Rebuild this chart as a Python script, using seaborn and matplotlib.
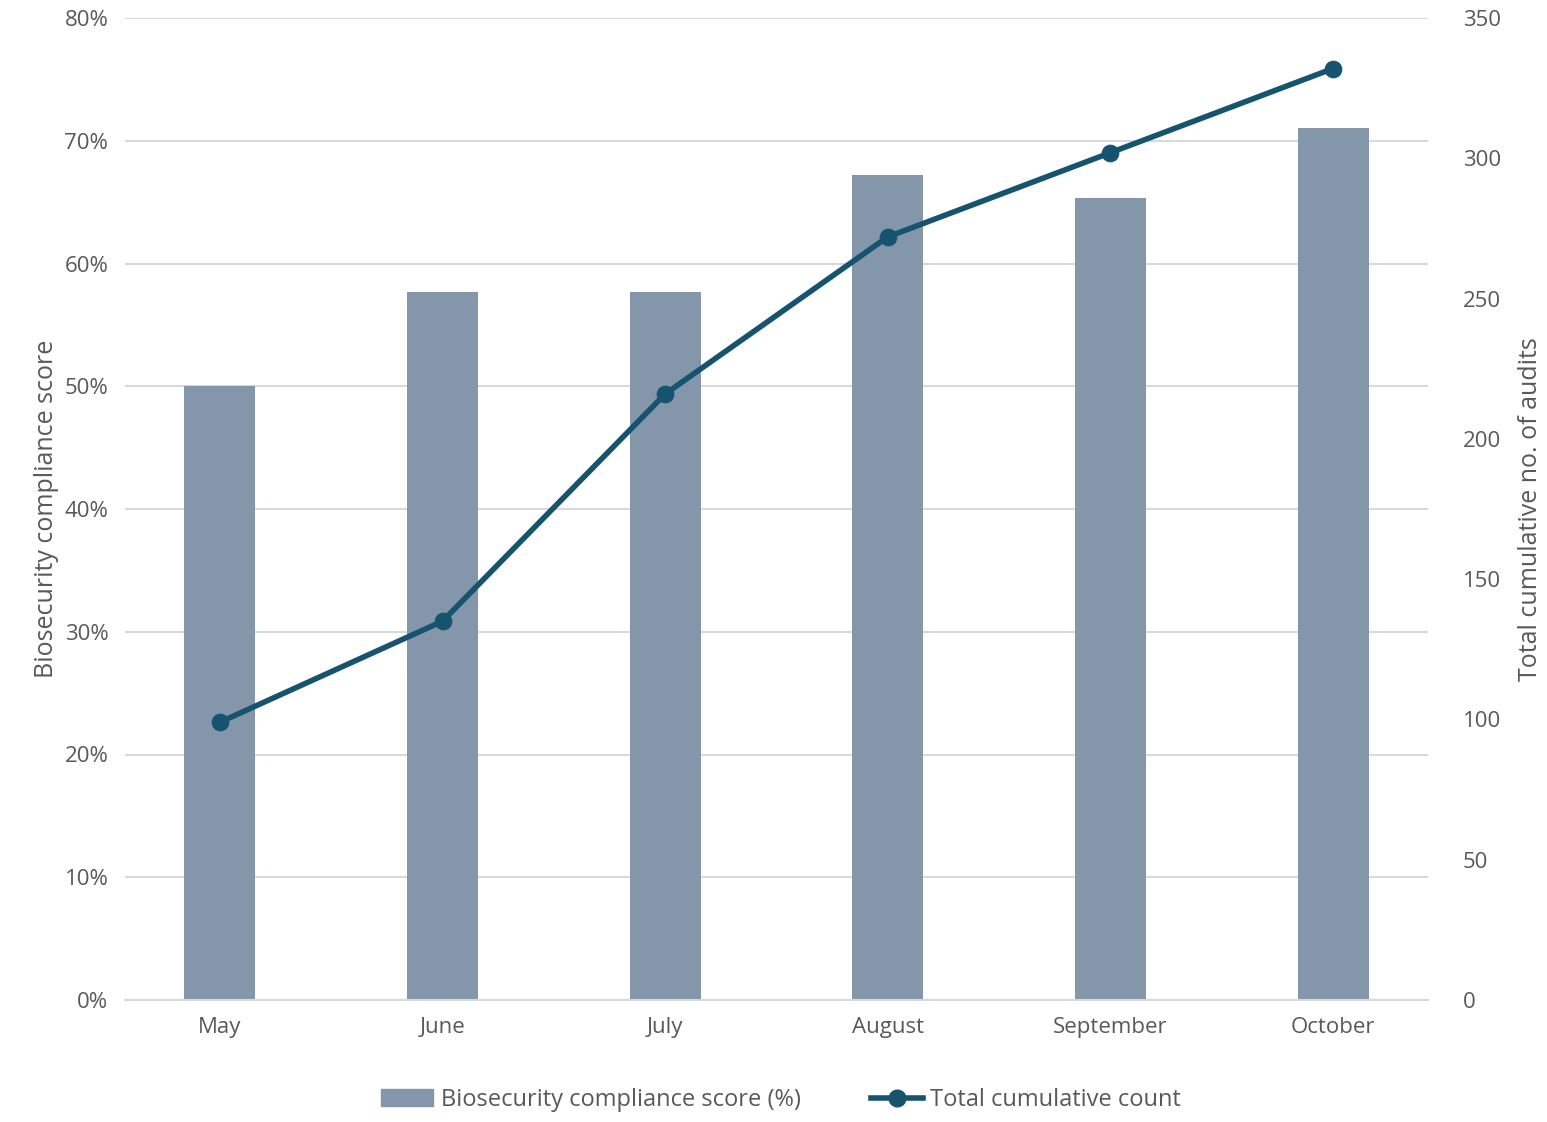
import matplotlib
matplotlib.use("Agg")
import matplotlib.pyplot as plt
import seaborn as sns
import pandas as pd
from matplotlib.ticker import PercentFormatter
from matplotlib.lines import Line2D
from matplotlib.patches import Patch

months = ["May", "June", "July", "August", "September", "October"]
compliance = [50.0, 57.7, 57.7, 67.2, 65.3, 71.0]
cumulative = [99, 135, 216, 272, 302, 332]

df = pd.DataFrame({"month": months, "score": compliance, "count": cumulative})

plt.rcParams["font.family"] = "Open Sans"
fig = plt.figure(figsize=(15.47, 11.22), dpi=100)
ax = fig.add_axes([125/1547, 1 - 1000/1122, (1428-125)/1547, (1000-18)/1122])
bar_c = "#8497aa"
line_c = "#15536f"
txt = "#595959"

sns.barplot(data=df, x="month", y="score", color=bar_c, width=0.32, saturation=1, ax=ax, zorder=2)
ax.set_ylim(0, 80)
ax.set_yticks(range(0, 81, 10))
ax.yaxis.set_major_formatter(PercentFormatter(decimals=0))
ax.grid(axis="y", color="#d9d9d9", lw=1.5, zorder=0)
ax.set_axisbelow(True)
for s in ["top", "right", "left"]:
    ax.spines[s].set_visible(False)
ax.spines["bottom"].set_color("#d9d9d9")
ax.spines["bottom"].set_linewidth(1.5)
ax.tick_params(length=0, labelsize=16, colors=txt, pad=12)
ax.set_xlabel("")
ax.set_ylabel("Biosecurity compliance score", fontsize=18, color=txt)

ax2 = ax.twinx()
sns.lineplot(x=list(range(len(months))), y=cumulative, ax=ax2, color=line_c, lw=4,
             marker="o", markersize=12, markeredgecolor=line_c)
ax2.set_ylim(0, 350)
ax2.set_yticks(range(0, 351, 50))
for s in ["top", "right", "left", "bottom"]:
    ax2.spines[s].set_visible(False)
ax2.tick_params(length=0, labelsize=16, colors=txt, pad=25)
ax2.set_ylabel("Total cumulative no. of audits", fontsize=18, color=txt, labelpad=12)

handles = [Patch(color=bar_c), Line2D([0], [0], color=line_c, lw=4, marker="o", markersize=12)]
fig.legend(handles, ["Biosecurity compliance score (%)", "Total cumulative count"],
           loc="center", bbox_to_anchor=(0.505, 1 - 1100/1122), ncol=2, frameon=False,
           fontsize=17, labelcolor=txt, handlelength=2.2, columnspacing=3, handletextpad=0.3)
fig.savefig("out.png", dpi=100)
